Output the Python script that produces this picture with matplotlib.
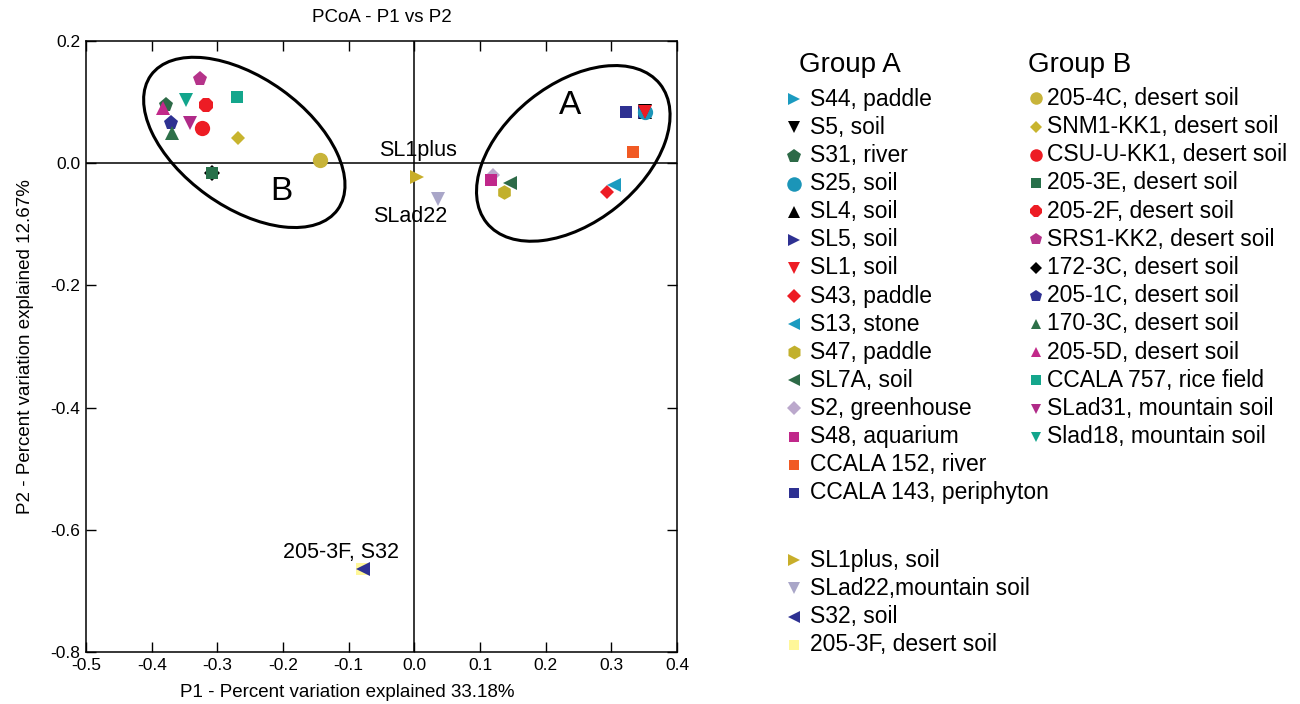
import matplotlib.pyplot as plt
from matplotlib.patches import Ellipse
from matplotlib.transforms import ScaledTranslation

plt.rcParams['font.family'] = ['Liberation Sans', 'DejaVu Sans']

# ---- data ----
group_a_names = ['S44, paddle', 'S5, soil', 'S31, river', 'S25, soil', 'SL4, soil',
                 'SL5, soil', 'SL1, soil', 'S43, paddle', 'S13, stone', 'S47, paddle',
                 'SL7A, soil', 'S2, greenhouse', 'S48, aquarium', 'CCALA 152, river',
                 'CCALA 143, periphyton']
group_a_x = [0.351, 0.351, -0.379, 0.351, 0.351, 0.351, 0.351, 0.293, 0.304, 0.137,
             0.145, 0.120, 0.116, 0.333, 0.322]
group_a_y = [0.084, 0.085, 0.096, 0.084, 0.084, 0.084, 0.084, -0.047, -0.035, -0.047,
             -0.033, -0.019, -0.028, 0.018, 0.084]

group_b_names = ['205-4C, desert soil', 'SNM1-KK1, desert soil', 'CSU-U-KK1, desert soil',
                 '205-3E, desert soil', '205-2F, desert soil', 'SRS1-KK2, desert soil',
                 '172-3C, desert soil', '205-1C, desert soil', '170-3C, desert soil',
                 '205-5D, desert soil', 'CCALA 757, rice field', 'SLad31, mountain soil',
                 'Slad18, mountain soil']
group_b_x = [-0.144, -0.268, -0.324, -0.308, -0.317, -0.326, -0.308, -0.371, -0.369,
             -0.383, -0.270, -0.342, -0.348]
group_b_y = [0.006, 0.042, 0.057, -0.016, 0.095, 0.138, -0.016, 0.065, 0.049,
             0.091, 0.109, 0.065, 0.103]

other_names = ['SL1plus, soil', 'SLad22,mountain soil', 'S32, soil', '205-3F, desert soil']
other_x = [0.004, 0.036, -0.078, -0.080]
other_y = [-0.023, -0.059, -0.664, -0.664]

# ---- styles ----
group_a_colors = ['#1b9bc0', '#000000', '#2d6a47', '#1b95b8', '#000000', '#2e3192',
                  '#ed1c24', '#ed1c24', '#1b9bc0', '#c2b02c', '#2d6a47', '#bba8cc',
                  '#c0288a', '#f15a24', '#2e3192']
group_a_markers = ['>', 'v', 'p', 'o', '^', '>', 'v', 'D', '<', 'h', '<', 'D', 's', 's', 's']
group_a_z = [3.0, 3.3, 3.0, 3.2, 3.0, 3.0, 3.4, 3.0, 3.1, 3.0, 3.1, 3.0, 3.1, 3.0, 3.0]
group_b_colors = ['#c8b43a', '#c8b42e', '#ed1c24', '#27704a', '#ed1c24', '#b5338a',
                  '#000000', '#2e3192', '#2e7049', '#c2298a', '#14a68c', '#b02a88',
                  '#12a58c']
group_b_markers = ['o', 'D', 'o', 's', '8', 'p', 'D', 'p', '^', '^', 's', 'v', 'v']
group_b_z = [3.0, 3.0, 3.0, 3.1, 3.0, 3.0, 3.0, 3.0, 3.0, 3.2, 3.0, 3.1, 3.0]
other_colors = ['#c8ae2a', '#a9a6c8', '#2e3192', '#fff799']
other_markers = ['>', 'v', '<', 's']
other_z = [3.0, 3.0, 3.1, 3.0]

marker_size = {'o': 11, 's': 8, '^': 9.5, 'v': 9.5, '<': 9.5, '>': 9.5,
               'D': 7.2, 'p': 11, 'h': 10.5, '8': 10.5}

fig = plt.figure(figsize=(13, 7.04), dpi=100)
ax = fig.add_axes([0.0662, 0.0739, 0.4546, 0.8679])

ax.axhline(0, color='black', lw=1.1, zorder=1)
ax.axvline(0, color='black', lw=1.1, zorder=1)

all_x = group_b_x + group_a_x + other_x
all_y = group_b_y + group_a_y + other_y
all_c = group_b_colors + group_a_colors + other_colors
all_m = group_b_markers + group_a_markers + other_markers
all_z = group_b_z + group_a_z + other_z
for x, y, c, m, z in zip(all_x, all_y, all_c, all_m, all_z):
    ms = marker_size[m]
    if c == '#000000' and m in 'vD':
        ms *= 1.12   # black marks peek out from under the coloured ones
    ax.plot(x, y, marker=m, color=c, markersize=ms, linestyle='none',
            markeredgewidth=0, zorder=z)

# cluster ellipses (size in inches, centre in data units)
ellipses = [(-0.259, 0.034, 2.30, 1.29, -35.7, 'B', -0.202, -0.047),
            (0.242, 0.016, 2.22, 1.38, 38.7, 'A', 0.237, 0.095)]
for cx, cy, w, h, ang, lab, lx, ly in ellipses:
    e = Ellipse((0, 0), w, h, angle=ang, fill=False, lw=2.2, ec='black',
                transform=fig.dpi_scale_trans + ScaledTranslation(cx, cy, ax.transData))
    ax.add_patch(e)
    ax.text(lx, ly, lab, fontsize=24, ha='center', va='center')

ax.text(0.005, 0.021, 'SL1plus', fontsize=15.5, ha='center', va='center')
ax.text(-0.006, -0.088, 'SLad22', fontsize=15.5, ha='center', va='center')
ax.text(-0.112, -0.637, '205-3F, S32', fontsize=15.5, ha='center', va='center')

ax.set_xlim(-0.5, 0.4)
ax.set_ylim(-0.8, 0.2)
ax.set_xticks([-0.5, -0.4, -0.3, -0.2, -0.1, 0.0, 0.1, 0.2, 0.3, 0.4])
ax.set_yticks([-0.8, -0.6, -0.4, -0.2, 0.0, 0.2])
ax.set_xticklabels([f'{t:.1f}' for t in ax.get_xticks()])
ax.set_yticklabels([f'{t:.1f}' for t in ax.get_yticks()])
ax.tick_params(direction='in', length=7, width=1, top=True, right=True,
               labelsize=12.5, pad=4)
for s in ax.spines.values():
    s.set_linewidth(1.1)

ax.set_title('PCoA - P1 vs P2', fontsize=13.5, pad=14)
ax.set_xlabel('P1 - Percent variation explained 33.18%', fontsize=13.5,
              ha='left')
ax.xaxis.set_label_coords(0.159, -0.053)
ax.set_ylabel('P2 - Percent variation explained 12.67%', fontsize=13.5, labelpad=12)

# ---- legend drawn in pixel coordinates ----
lax = fig.add_axes([0, 0, 1, 1])
lax.set_xlim(0, 1300)
lax.set_ylim(704, 0)
lax.axis('off')
lax.patch.set_alpha(0)


def legend_column(names, colors, markers, x_marker, x_text, y_first, dy, scale=0.95):
    for i, (n, c, m) in enumerate(zip(names, colors, markers)):
        y = y_first + i * dy
        lax.plot(x_marker, y, marker=m, color=c, markersize=marker_size[m] * scale,
                 markeredgewidth=0, linestyle='none')
        lax.text(x_text, y, n, fontsize=16.5, va='center', ha='left')


lax.text(799, 65, 'Group A', fontsize=20, va='center', ha='left')
lax.text(1028, 65, 'Group B', fontsize=20, va='center', ha='left')
legend_column(group_a_names, group_a_colors, group_a_markers, 794, 810, 99.3, 28.1)
legend_column(group_b_names, group_b_colors, group_b_markers, 1036, 1047, 98.3, 28.2,
              scale=0.82)
legend_column(other_names, other_colors, other_markers, 794, 810, 560, 28.3)

fig.savefig('out.png', dpi=100)
